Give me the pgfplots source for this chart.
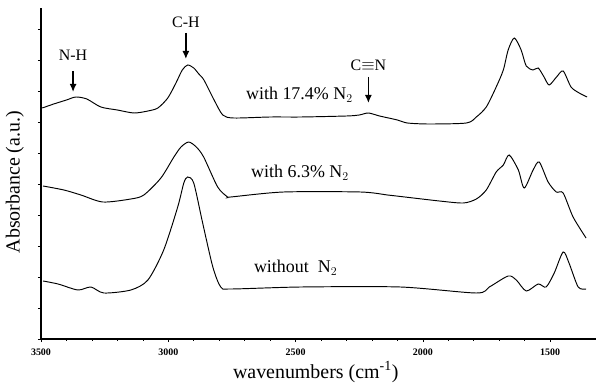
\documentclass[border=0pt]{standalone}
\usepackage{fontspec}
\setmainfont{Liberation Serif}
\usepackage{pgfplots}
\pgfplotsset{compat=1.18}
\usetikzlibrary{arrows.meta,calc}
\tikzset{spec/.style={black, line width=0.95bp, smooth, tension=0.45, mark=none},
  annarrow/.style={line width=1.4bp,-{Latex[length=8bp,width=7bp]}}}
\begin{document}
\begin{tikzpicture}
\begin{axis}[
  name=ax,
  scale only axis,
  width=555bp, height=331bp,
  x dir=reverse,
  xmin=1320, xmax=3500,
  ymin=0, ymax=331,
  axis x line*=bottom,
  axis y line*=left,
  axis line style={line width=1.4bp},
  xtick={1500,2000,2500,3000,3500},
  minor x tick num=4,
  ytick={0,31,62,93,124,155,186,217,248,279,310},
  yticklabels={},
  tick align=outside,
  major tick length=3bp,
  minor tick length=1.5bp,
  tick style={line width=0.6bp,black},
  /pgf/number format/assume math mode=true,
  /pgf/number format/1000 sep={},
  xticklabel style={font=\fontsize{10}{10}\selectfont\bfseries, yshift=-3bp},
  xlabel={wavenumbers (cm\textsuperscript{-1})},
  ylabel={Absorbance (a.u.)},
  xlabel style={font=\fontsize{20}{20}\selectfont, at={(axis description cs:0.495,0)}, anchor=center, yshift=-33bp},
  ylabel style={font=\fontsize{20}{20}\selectfont, at={(axis description cs:-0.047,0.474)}, anchor=center},
  clip=false,
]
% with 17.4% N2
\addplot[spec] coordinates {
(3495,231)(3450,235)(3400,239)(3363,242)(3320,240)(3265,232)(3200,229)(3135,226)
(3080,228)(3041,231)(3002,241)(2970,256)(2945,269)(2924,274)(2900,271)(2880,265)
(2860,259)(2820,239)(2786,224)(2743,221)(2600,222)(2480,222)(2300,223)(2250,224)
(2214,226)(2170,223)(2100,219)(2061,216)(1975,215)(1829,216)(1790,222)(1751,232)
(1712,252)(1684,269)(1665,289)(1641,301)(1614,289)(1594,273)(1567,269)(1547,271)
(1524,262)(1504,254)(1475,262)(1449,268)(1418,252)(1386,246)(1355,242)
};
% with 6.3% N2
\addplot[spec] coordinates {
(3492,153)(3410,149)(3343,144)(3257,137)(3147,140)(3096,144)(3029,161)(2978,182)
(2950,192)(2920,197)(2890,192)(2861,182)(2806,152)(2767,142)(2755,142)(2547,147)
(2245,147)(2139,144)(2104,143)(1935,138)(1841,136)(1790,140)(1751,149)(1712,167)
(1684,174)(1661,184)(1625,169)(1602,151)(1567,169)(1543,177)(1508,157)(1476,147)
(1449,146)(1410,122)(1359,101)
};
% without N2
\addplot[spec] coordinates {
(3492,58)(3433,55)(3355,49)(3304,52)(3253,46)(3147,49)(3080,59)(3018,89)(2963,132)
(2939,156)(2924,162)(2900,156)(2865,116)(2825,72)(2794,52)(2755,50)(2480,52)
(2088,52)(1790,46)(1739,52)(1665,63)(1633,59)(1594,48)(1547,55)(1516,52)(1484,66)
(1449,87)(1426,76)(1390,52)(1359,50)
};
% annotations
\draw[annarrow] (axis cs:3374,268) -- (axis cs:3374,247);
\node[font=\fontsize{16}{16}\selectfont] at (axis cs:3374,284) {N-H};
\draw[annarrow] (axis cs:2931,306) -- (axis cs:2931,280);
\node[font=\fontsize{16}{16}\selectfont] at (axis cs:2931,317) {C-H};
\draw[annarrow] (axis cs:2214,262) -- (axis cs:2214,236);
\node[font=\fontsize{16}{16}\selectfont] at (axis cs:2214,274) {C$\equiv$N};
\node[font=\fontsize{18}{18}\selectfont, anchor=west] at (axis cs:2708,244) {with 17.4\% N$_2$};
\node[font=\fontsize{18}{18}\selectfont, anchor=west] at (axis cs:2688,166) {with 6.3\% N$_2$};
\node[font=\fontsize{18}{18}\selectfont, anchor=west] at (axis cs:2677,71) {without\ \ N$_2$};
\end{axis}
\pgfresetboundingbox
\path[use as bounding box] ($(ax.south west)+(-41bp,-44bp)$) rectangle ($(ax.north east)+(0,8bp)$);
\end{tikzpicture}
\end{document}
